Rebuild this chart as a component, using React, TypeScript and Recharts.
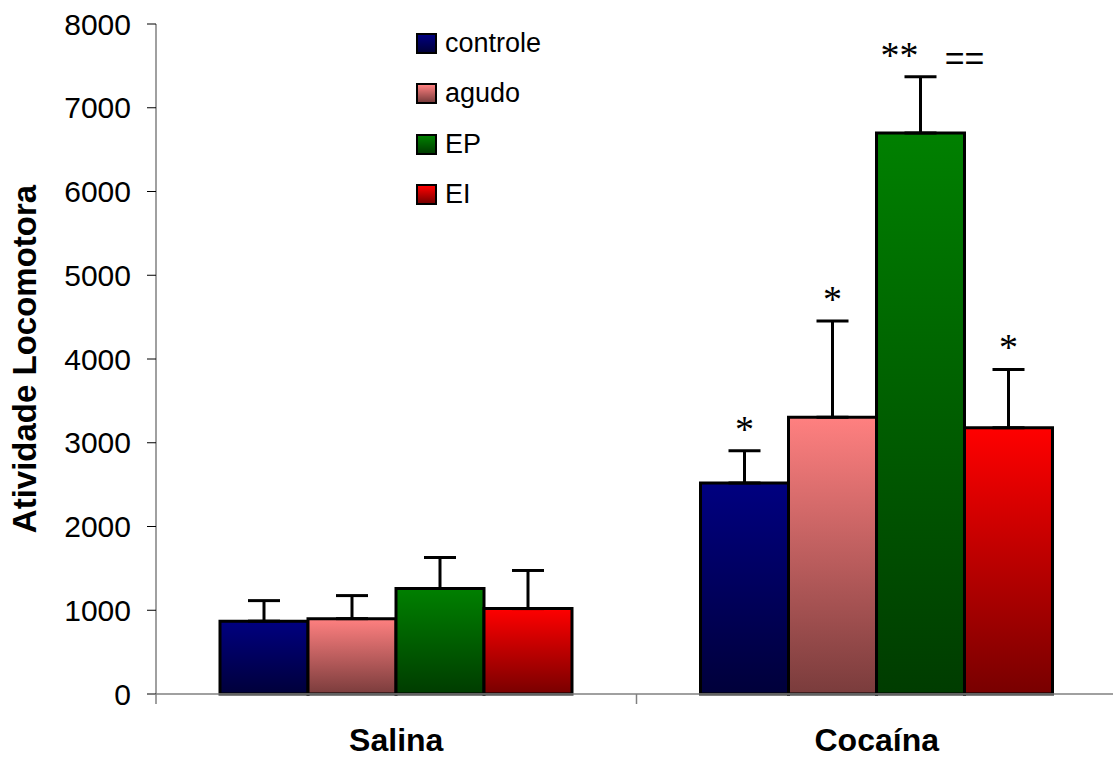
import { BarChart, Bar, XAxis, YAxis, ErrorBar, LabelList, Legend, Label } from 'recharts';

// Grupos e médias (± erro padrão, só para cima)
const categories = ['Salina', 'Cocaína'];

const controle = [870, 2520];
const controleErr = [245, 385];
const agudo = [900, 3305];
const agudoErr = [275, 1150];
const ep = [1260, 6700];
const epErr = [370, 670];
const ei = [1020, 3180];
const eiErr = [455, 695];

// marcas de significância acima de cada barra
const controleMarks = ['', '*'];
const agudoMarks = ['', '*'];
const epMarks = ['', '** =='];
const eiMarks = ['', '*'];

const yTicks = [0, 1000, 2000, 3000, 4000, 5000, 6000, 7000, 8000];

const CHART_W = 1117;
const CHART_H = 758;
const Y_AXIS_W = 156;
const PLOT_W = CHART_W - Y_AXIS_W;

const SANS = '"Liberation Sans", Arial, sans-serif';
const SERIF = '"Liberation Serif", "Times New Roman", serif';

const series = [
  { key: 'controle', values: controle, errs: controleErr, marks: controleMarks, top: '#000080', bottom: '#00003a' },
  { key: 'agudo', values: agudo, errs: agudoErr, marks: agudoMarks, top: '#ff8080', bottom: '#7a3c3c' },
  { key: 'EP', values: ep, errs: epErr, marks: epMarks, top: '#008000', bottom: '#003c00' },
  { key: 'EI', values: ei, errs: eiErr, marks: eiMarks, top: '#ff0000', bottom: '#780000' },
];

const data = categories.map((name, i) => {
  const row: Record<string, string | number> = { name };
  series.forEach((s) => {
    row[s.key] = s.values[i];
    row[s.key + 'Err'] = s.errs[i];
    row[s.key + 'Mark'] = s.marks[i];
  });
  return row;
});

function makeMarkLabel(values: number[], errs: number[]) {
  return (props: any) => {
    const { x, y, width, height, value, index } = props;
    if (!value) return null;
    const v = values[index];
    const capY = y - (errs[index] * height) / v;
    const cx = x + width / 2;
    const base = capY - 9;
    const parts = String(value).split(' ');
    if (parts.length > 1) {
      return (
        <g>
          <text x={cx - 21} y={base} textAnchor="middle" fontFamily={SERIF} fontSize={38} fill="#000">
            {parts[0]}
          </text>
          <text x={cx + 44} y={base + 2} textAnchor="middle" fontFamily={SANS} fontSize={34} fill="#000">
            {parts[1]}
          </text>
        </g>
      );
    }
    return (
      <text x={cx} y={base} textAnchor="middle" fontFamily={SERIF} fontSize={38} fill="#000">
        {value}
      </text>
    );
  };
}

// rótulo da categoria + marca de divisão à esquerda de cada grupo
function CategoryTick(props: any) {
  const { x, y, payload } = props;
  const half = PLOT_W / categories.length / 2;
  const left = x - half;
  return (
    <g>
      <line x1={left} y1={y - 10} x2={left} y2={y} stroke="#808080" strokeWidth={1.5} />
      <text x={x} y={y + 47} textAnchor="middle" fontFamily={SANS} fontWeight="bold" fontSize={32} fill="#000">
        {payload.value}
      </text>
    </g>
  );
}

function YTitle(props: any) {
  const { viewBox } = props;
  const cy = viewBox.y + viewBox.height / 2;
  const bx = 36;
  return (
    <text
      x={bx}
      y={cy}
      transform={`rotate(-90 ${bx} ${cy})`}
      textAnchor="middle"
      fontFamily={SANS}
      fontWeight="bold"
      fontSize={33}
      fill="#000"
    >
      Atividade Locomotora
    </text>
  );
}

function LegendBox() {
  return (
    <div style={{ fontFamily: SANS, fontSize: 27, color: '#000' }}>
      {series.map((s) => (
        <div key={s.key} style={{ display: 'flex', alignItems: 'center', height: 50.5 }}>
          <span
            style={{
              display: 'inline-block',
              width: 17,
              height: 17,
              border: '2px solid #000',
              background: `linear-gradient(${s.top}, ${s.bottom})`,
              marginRight: 8,
            }}
          />
          <span>{s.key}</span>
        </div>
      ))}
    </div>
  );
}

export default function App() {
  return (
    <div style={{ position: 'absolute', left: 0, top: 0, width: 1113, height: 758, overflow: 'hidden', background: '#fff' }}>
      <BarChart
        width={CHART_W}
        height={CHART_H}
        data={data}
        margin={{ top: 24, right: 0, left: 0, bottom: 0 }}
        barCategoryGap={64}
        barGap={0}
      >
        <defs>
          {series.map((s) => (
            <linearGradient key={s.key} id={`grad-${s.key}`} x1="0" y1="0" x2="0" y2="1">
              <stop offset="0%" stopColor={s.top} />
              <stop offset="100%" stopColor={s.bottom} />
            </linearGradient>
          ))}
        </defs>
        <XAxis
          dataKey="name"
          height={64}
          axisLine={{ stroke: '#808080', strokeWidth: 1.5 }}
          tickLine={false}
          tickSize={10}
          tickMargin={0}
          tick={<CategoryTick />}
          interval={0}
        />
        <YAxis
          width={Y_AXIS_W}
          domain={[0, 8000]}
          ticks={yTicks}
          interval={0}
          axisLine={{ stroke: '#808080', strokeWidth: 1.5 }}
          tickLine={{ stroke: '#000', strokeWidth: 1 }}
          tickSize={9}
          tickMargin={16}
          tick={{ fontFamily: SANS, fontSize: 30, fill: '#000' }}
        >
          <Label content={<YTitle />} />
        </YAxis>
        <Legend
          layout="vertical"
          align="center"
          verticalAlign="middle"
          content={<LegendBox />}
          wrapperStyle={{ position: 'absolute', left: 416, top: 18, width: 'auto', height: 'auto' }}
        />
        {series.map((s) => (
          <Bar
            key={s.key}
            dataKey={s.key}
            name={s.key}
            fill={`url(#grad-${s.key})`}
            stroke="#000"
            strokeWidth={3}
            isAnimationActive={false}
          >
            <ErrorBar
              dataKey={(d: any) => [0, d[s.key + 'Err']]}
              direction="y"
              width={16}
              stroke="#000"
              strokeWidth={3}
              isAnimationActive={false}
            />
            <LabelList dataKey={s.key + 'Mark'} content={makeMarkLabel(s.values, s.errs)} />
          </Bar>
        ))}
      </BarChart>
    </div>
  );
}
